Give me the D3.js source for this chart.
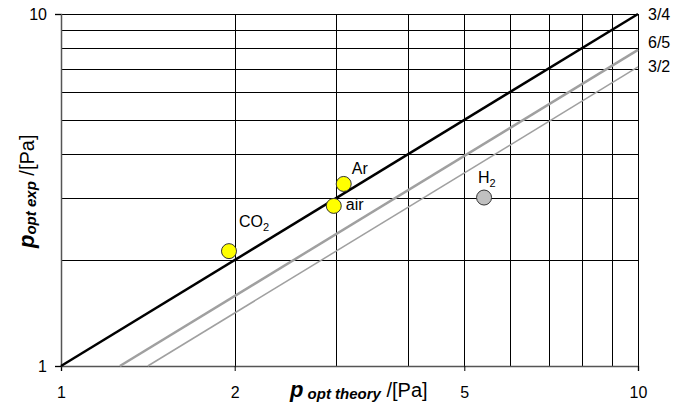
<!DOCTYPE html>
<html>
<head>
<meta charset="utf-8">
<script src="https://cdn.jsdelivr.net/npm/d3@7"></script>
<style>
  body { margin: 0; background: #fff; }
  svg { font-family: "Liberation Sans", Arial, sans-serif; }
</style>
</head>
<body>
<svg id="chart"></svg>
<script>
// gas points
const gasNames = ["CO2", "air", "Ar", "H2"];
const pTheory = [1.955, 2.97, 3.09, 5.41];
const pExp = [2.12, 2.85, 3.29, 3.01];
const gasColors = ["#ffff00", "#ffff00", "#ffff00", "#c0c0c0"];

// reference lines y = x * k
const lineNames = ["3/4", "6/5", "3/2"];
const lineFactors = [1, 1 / 1.265, 1 / 1.414];
const lineColors = ["#000", "#a0a0a0", "#a0a0a0"];
const lineWidths = [2.5, 2.5, 1.5];

const xTickVals = [1, 2, 5, 10];
const yTickVals = [1, 10];
const gridVals = [1, 2, 3, 4, 5, 6, 7, 8, 9, 10];

const margin = {top: 14, right: 53, bottom: 40, left: 61};
const W = 691, H = 406;
const w = W - margin.left - margin.right;
const h = H - margin.top - margin.bottom;

const svg = d3.select("#chart").attr("width", W).attr("height", H);
const chart = svg.append("g").attr("transform", "translate(" + margin.left + "," + margin.top + ")");

const x = d3.scaleLog().domain([1, 10]).range([0, w]);
const y = d3.scaleLog().domain([1, 10]).range([h, 0]);

// grid
chart.append("g").selectAll("line").data(gridVals).enter().append("line")
  .attr("x1", 0).attr("x2", w)
  .attr("y1", d => Math.round(y(d)) + 0.5).attr("y2", d => Math.round(y(d)) + 0.5)
  .attr("stroke", "#000").attr("stroke-width", 1);
chart.append("g").selectAll("line").data(gridVals).enter().append("line")
  .attr("y1", 0).attr("y2", h)
  .attr("x1", d => Math.round(x(d)) + 0.5).attr("x2", d => Math.round(x(d)) + 0.5)
  .attr("stroke", "#000").attr("stroke-width", 1);

// axes
const xAxis = chart.append("g").attr("transform", "translate(0," + h + ")")
  .call(d3.axisBottom(x).tickValues(xTickVals).tickFormat(d3.format("d")).tickSize(5).tickPadding(16));
const yAxis = chart.append("g")
  .call(d3.axisLeft(y).tickValues(yTickVals).tickFormat(d3.format("d")).tickSize(6).tickPadding(8));
[xAxis, yAxis].forEach(a => {
  a.select(".domain").attr("stroke", "#555").attr("stroke-width", 1.5);
  a.selectAll(".tick line").attr("stroke", "#000");
  a.selectAll(".tick text").attr("fill", "#000").style("font-size", "16px")
    .style("font-family", "'Liberation Sans', Arial, sans-serif");
});

// reference lines
lineNames.forEach((name, i) => {
  const k = lineFactors[i];
  const x0 = Math.max(1, 1 / k);
  chart.append("line")
    .attr("x1", x(x0)).attr("y1", y(x0 * k))
    .attr("x2", x(10)).attr("y2", y(10 * k))
    .attr("stroke", lineColors[i]).attr("stroke-width", lineWidths[i]);
});

// line labels
const labelDy = [6, -2, 5];
lineNames.forEach((name, i) => {
  chart.append("text")
    .attr("x", w + 10).attr("y", y(10 * lineFactors[i]) + labelDy[i])
    .style("font-size", "16px").attr("fill", "#000")
    .text(name);
});

// points
chart.selectAll("circle").data(gasNames).enter().append("circle")
  .attr("cx", (d, i) => x(pTheory[i]))
  .attr("cy", (d, i) => y(pExp[i]))
  .attr("r", 7.5)
  .attr("fill", (d, i) => gasColors[i])
  .attr("stroke", "#333").attr("stroke-width", 1);

// point labels with subscripts
const labelOff = [[10, -24], [12, 4], [8, -10], [-6, -15]];
gasNames.forEach((name, i) => {
  const t = chart.append("text")
    .attr("x", x(pTheory[i]) + labelOff[i][0])
    .attr("y", y(pExp[i]) + labelOff[i][1])
    .style("font-size", "16px").attr("fill", "#000");
  const m = name.match(/^([A-Za-z]+?)(\d*)$/);
  t.append("tspan").text(m[1]);
  if (m[2]) t.append("tspan").attr("dy", 4).style("font-size", "11px").text(m[2]);
});

// x-axis title
const xt = svg.append("text").attr("x", 290).attr("y", 397).attr("fill", "#000");
xt.append("tspan").style("font-size", "22px").style("font-weight", "bold").style("font-style", "italic").text("p");
xt.append("tspan").attr("dy", 2).style("font-size", "15px").style("font-weight", "bold").style("font-style", "italic").text(" opt theory");
xt.append("tspan").attr("dy", -2).style("font-size", "20px").text(" /[Pa]");

// y-axis title
const yt = svg.append("text").attr("transform", "translate(34,248) rotate(-90)").attr("fill", "#000");
yt.append("tspan").style("font-size", "22px").style("font-weight", "bold").style("font-style", "italic").text("p");
yt.append("tspan").attr("dy", 2).style("font-size", "15px").style("font-weight", "bold").style("font-style", "italic").text("opt exp");
yt.append("tspan").attr("dy", -2).style("font-size", "20px").text(" /[Pa]");
</script>
</body>
</html>
